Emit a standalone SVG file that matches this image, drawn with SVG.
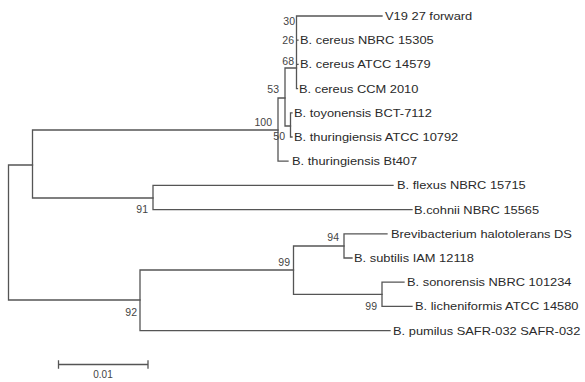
<svg xmlns="http://www.w3.org/2000/svg" width="585" height="382" viewBox="0 0 585 382">
<style>
.br{fill:none;stroke:#555;stroke-width:1.3;stroke-linecap:square}
.lf{font-family:"Liberation Sans",Arial,sans-serif;font-size:11px;fill:#2a2a2a}
.bs{font-family:"Liberation Sans",Arial,sans-serif;font-size:10.5px;fill:#444;text-anchor:end}
.sc{font-family:"Liberation Sans",Arial,sans-serif;font-size:10px;fill:#444;text-anchor:middle}
</style>
<rect width="585" height="382" fill="#fff"/>
<g id="connectors" class="br">
<path d="M8.5,165V300M8.5,165H32.5M8.5,300H140"/>
<path d="M32.5,130V198M32.5,130H278M32.5,198H153"/>
<path d="M278,98V161.2M278,98H285M278,161.2H288"/>
<path d="M285,68V126M285,68H296.5M285,126H290.5"/>
<path d="M290.5,112.8V137M290.5,112.8H292M290.5,137H292"/>
<path d="M296.5,16V88.6M296.5,16H382M296.5,40.2H298M296.5,64.4H298M296.5,88.6H297.5"/>
<path d="M153,185.4V209.6M153,185.4H393M153,209.6H412"/>
<path d="M140,270V330.6M140,270H293.5M140,330.6H390"/>
<path d="M293.5,246V294.3M293.5,246H344M293.5,294.3H382"/>
<path d="M344,233.8V258M344,233.8H387M344,258H352"/>
<path d="M382,282.2V306.4M382,282.2H404M382,306.4H412"/>
</g>
<g id="leaf-v19"><text class="lf" transform="translate(385,20) scale(1.17,1)">V19 27 forward</text></g>
<g id="leaf-cereus-nbrc"><text class="lf" transform="translate(300,44.2) scale(1.17,1)">B. cereus NBRC 15305</text></g>
<g id="leaf-cereus-atcc"><text class="lf" transform="translate(300,68.4) scale(1.17,1)">B. cereus ATCC 14579</text></g>
<g id="leaf-cereus-ccm"><text class="lf" transform="translate(299,92.6) scale(1.17,1)">B. cereus CCM 2010</text></g>
<g id="leaf-toyonensis"><text class="lf" transform="translate(294,116.8) scale(1.17,1)">B. toyonensis BCT-7112</text></g>
<g id="leaf-thuringiensis-atcc"><text class="lf" transform="translate(294,141) scale(1.17,1)">B. thuringiensis ATCC 10792</text></g>
<g id="leaf-thuringiensis-bt407"><text class="lf" transform="translate(292,165.2) scale(1.17,1)">B. thuringiensis Bt407</text></g>
<g id="leaf-flexus"><text class="lf" transform="translate(397,189.4) scale(1.17,1)">B. flexus NBRC 15715</text></g>
<g id="leaf-cohnii"><text class="lf" transform="translate(414,213.6) scale(1.17,1)">B.cohnii NBRC 15565</text></g>
<g id="leaf-brevibacterium"><text class="lf" transform="translate(391,237.8) scale(1.17,1)">Brevibacterium halotolerans DS</text></g>
<g id="leaf-subtilis"><text class="lf" transform="translate(354,262) scale(1.17,1)">B. subtilis IAM 12118</text></g>
<g id="leaf-sonorensis"><text class="lf" transform="translate(407,286.2) scale(1.17,1)">B. sonorensis NBRC 101234</text></g>
<g id="leaf-licheniformis"><text class="lf" transform="translate(415,310.4) scale(1.17,1)">B. licheniformis ATCC 14580</text></g>
<g id="leaf-pumilus"><text class="lf" transform="translate(393,334.6) scale(1.17,1)">B. pumilus SAFR-032 SAFR-032</text></g>
<g id="node-30"><text class="bs" x="295" y="25">30</text></g>
<g id="node-26"><text class="bs" x="294" y="44">26</text></g>
<g id="node-68"><text class="bs" x="294" y="65">68</text></g>
<g id="node-53"><text class="bs" x="279" y="92.5">53</text></g>
<g id="node-100"><text class="bs" x="272" y="126">100</text></g>
<g id="node-50"><text class="bs" x="285" y="140">50</text></g>
<g id="node-91"><text class="bs" x="148" y="212.5">91</text></g>
<g id="node-92"><text class="bs" x="137" y="316">92</text></g>
<g id="node-99a"><text class="bs" x="290" y="266">99</text></g>
<g id="node-94"><text class="bs" x="339" y="241">94</text></g>
<g id="node-99b"><text class="bs" x="377" y="310">99</text></g>
<g id="scale-bar">
<path class="br" d="M58.5,364.5H148M58.5,361V368M148,361V368"/>
<text class="sc" x="103" y="378">0.01</text>
</g>
</svg>
